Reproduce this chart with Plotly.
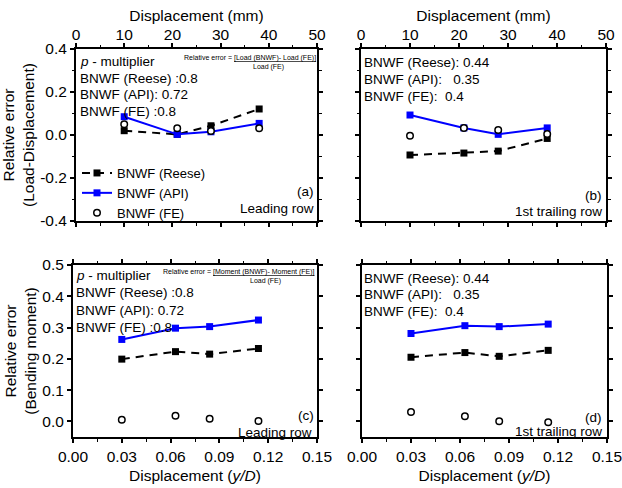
import plotly.graph_objects as go

W, H = 622, 488

# ---------------- data ----------------
disp_mm = [10, 21, 28, 38]
disp_yD = [0.03, 0.063, 0.084, 0.114]

a_reese = [0.020, 0.003, 0.043, 0.121]
a_api = [0.085, 0.003, 0.015, 0.054]
a_fe = [0.050, 0.031, 0.019, 0.031]

b_reese = [-0.093, -0.084, -0.075, -0.016]
b_api = [0.093, 0.033, 0.003, 0.033]
b_fe = [-0.003, 0.033, 0.023, 0.005]

c_reese = [0.199, 0.223, 0.215, 0.233]
c_api = [0.262, 0.298, 0.303, 0.324]
c_fe = [0.005, 0.018, 0.008, 0.001]

d_reese = [0.205, 0.220, 0.208, 0.227]
d_api = [0.281, 0.306, 0.303, 0.311]
d_fe = [0.030, 0.016, 0.000, -0.003]

series_names = ["BNWF (Reese)", "BNWF (API)", "BNWF (FE)"]

mm_ticks = [0, 10, 20, 30, 40, 50]
yd_ticks = [0.00, 0.03, 0.06, 0.09, 0.12, 0.15]
yd_ticktext = ["0.00", "0.03", "0.06", "0.09", "0.12", "0.15"]
top_yticks = [-0.4, -0.2, 0.0, 0.2, 0.4]
top_yticktext = ["-0.4", "-0.2", "0.0", "0.2", "0.4"]
bot_yticks = [0.0, 0.1, 0.2, 0.3, 0.4, 0.5]
bot_yticktext = ["0.0", "0.1", "0.2", "0.3", "0.4", "0.5"]

FONT = "Liberation Sans, Arial, sans-serif"
BLUE = "#0000FF"


def px_x(p):
    return p / W


def px_y(p):
    return 1 - p / H


fig = go.Figure()

panels = [
    ("x", "y", disp_mm, a_reese, a_api, a_fe, True),
    ("x2", "y2", disp_mm, b_reese, b_api, b_fe, False),
    ("x3", "y3", disp_yD, c_reese, c_api, c_fe, False),
    ("x4", "y4", disp_yD, d_reese, d_api, d_fe, False),
]

for xa, ya, xs, reese, api, fe, show in panels:
    fig.add_trace(go.Scatter(
        x=xs, y=reese, xaxis=xa, yaxis=ya, name=series_names[0], showlegend=show,
        mode="lines+markers",
        line=dict(color="black", width=2, dash="8px,6px"),
        marker=dict(symbol="square", size=7, color="black"),
    ))
    fig.add_trace(go.Scatter(
        x=xs, y=api, xaxis=xa, yaxis=ya, name=series_names[1], showlegend=show,
        mode="lines+markers",
        line=dict(color=BLUE, width=2),
        marker=dict(symbol="square", size=7, color=BLUE),
    ))
    fig.add_trace(go.Scatter(
        x=xs, y=fe, xaxis=xa, yaxis=ya, name=series_names[2], showlegend=show,
        mode="markers",
        marker=dict(symbol="circle", size=6.5, color="white",
                    line=dict(color="black", width=1.5)),
    ))

axis_common = dict(
    showline=True, linecolor="black", linewidth=2, mirror="allticks",
    ticks="outside", ticklen=4, tickwidth=1.5, tickcolor="black",
    showgrid=False, zeroline=False, automargin=False,
    ticklabeloverflow="allow",
    tickfont=dict(family=FONT, size=15.5, color="black"),
)
title_font = dict(family=FONT, size=15.5, color="black")

top_dom = [px_y(221), px_y(49)]
bot_dom = [px_y(437), px_y(265)]

# top x axes
for name, dom, anchor in [("xaxis", [px_x(76), px_x(317)], "y"),
                          ("xaxis2", [px_x(361), px_x(606)], "y2")]:
    fig.update_layout(**{name: dict(
        axis_common, domain=dom, anchor=anchor, side="top", range=[0, 50],
        tickmode="array", tickvals=mm_ticks, ticklabelstandoff=-3,
        minor=dict(ticks="outside", ticklen=2.5, tickwidth=1.2, tickcolor="black",
                   tickvals=[5, 15, 25, 35, 45]),
        title=dict(text="Displacement (mm)", font=title_font, standoff=0),
    )})

# bottom x axes
for name, dom, anchor in [("xaxis3", [px_x(73), px_x(317)], "y3"),
                          ("xaxis4", [px_x(362), px_x(607)], "y4")]:
    fig.update_layout(**{name: dict(
        axis_common, domain=dom, anchor=anchor, side="bottom", range=[0, 0.15],
        tickmode="array", tickvals=yd_ticks, ticktext=yd_ticktext,
        minor=dict(ticks="outside", ticklen=2.5, tickwidth=1.2, tickcolor="black",
                   tickvals=[0.015, 0.045, 0.075, 0.105, 0.135]),
        title=dict(text="Displacement (<i>y/D</i>)", font=title_font, standoff=7),
    )})

# top y axes
fig.update_layout(yaxis=dict(
    axis_common, domain=top_dom, anchor="x", range=[-0.4, 0.4],
    tickmode="array", tickvals=top_yticks, ticktext=top_yticktext,
    minor=dict(ticks="outside", ticklen=2.5, tickwidth=1.2, tickcolor="black",
               tickvals=[-0.3, -0.1, 0.1, 0.3]),
    title=dict(text="Relative error<br>(Load-Displacement)", font=title_font, standoff=2),
))
fig.update_layout(yaxis2=dict(
    axis_common, domain=top_dom, anchor="x2", range=[-0.4, 0.4],
    tickmode="array", tickvals=top_yticks, showticklabels=False,
    minor=dict(ticks="outside", ticklen=2.5, tickwidth=1.2, tickcolor="black",
               tickvals=[-0.3, -0.1, 0.1, 0.3]),
))
fig.update_layout(yaxis3=dict(
    axis_common, domain=bot_dom, anchor="x3", range=[-0.05, 0.5],
    tickmode="array", tickvals=bot_yticks, ticktext=bot_yticktext,
    title=dict(text="Relative error<br>(Bending moment)", font=title_font, standoff=2),
))
fig.update_layout(yaxis4=dict(
    axis_common, domain=bot_dom, anchor="x4", range=[-0.05, 0.5],
    tickmode="array", tickvals=bot_yticks, showticklabels=False,
))

TXT = 13.5
SMALL = 7
ann = []


def add(text, x, y, xanchor="left", size=TXT):
    ann.append(dict(text=text, x=px_x(x), y=px_y(y), xref="paper", yref="paper",
                    xanchor=xanchor, yanchor="middle", showarrow=False,
                    font=dict(family=FONT, size=size, color="black")))


NB = "\u00a0"
# panel (a)
add("<i>p</i> - multiplier", 78, 61)
add("BNWF (Reese) :0.8", 78, 78)
add("BNWF (API): 0.72", 78, 94.5)
add("BNWF (FE) :0.8", 78, 111)
add("Relative error = <span style='text-decoration:underline'>[Load (BNWF)- Load (FE)]</span>",
    318, 58, "right", SMALL)
add("Load (FE)", 268, 67, "center", SMALL)
add("(a)", 316, 191, "right")
add("Leading row", 316, 208, "right")
# panel (b)
add("BNWF (Reese): 0.44", 362, 63)
add("BNWF (API):" + NB * 3 + "0.35", 362, 80)
add("BNWF (FE):" + NB * 2 + "0.4", 362, 97)
add("(b)", 604, 195, "right")
add("1st trailing row", 604, 212, "right")
# panel (c)
add("<i>p</i> - multiplier", 74, 275)
add("BNWF (Reese) :0.8", 74, 292)
add("BNWF (API): 0.72", 74, 310)
add("BNWF (FE) :0.8", 74, 327)
add("Relative error = <span style='text-decoration:underline'>[Moment (BNWF)- Moment (FE)]</span>",
    317, 272, "right", SMALL)
add("Load (FE)", 265, 281, "center", SMALL)
add("(c)", 316, 415, "right")
add("Leading row", 314, 432, "right")
# panel (d)
add("BNWF (Reese): 0.44", 362, 278)
add("BNWF (API):" + NB * 3 + "0.35", 362, 294)
add("BNWF (FE):" + NB * 2 + "0.4", 362, 311)
add("(d)", 604, 417, "right")
add("1st trailing row", 604, 431, "right")

fig.update_layout(
    width=W, height=H, template="none",
    margin=dict(l=0, r=0, t=0, b=0, pad=0),
    paper_bgcolor="white", plot_bgcolor="white",
    font=dict(family=FONT, color="black"),
    showlegend=True,
    legend=dict(x=px_x(77), y=px_y(158), xanchor="left", yanchor="top",
                bgcolor="rgba(0,0,0,0)", borderwidth=0,
                font=dict(family=FONT, size=13, color="black"),
                itemwidth=30, tracegroupgap=0),
    annotations=ann,
)

fig.write_html("out.html")
